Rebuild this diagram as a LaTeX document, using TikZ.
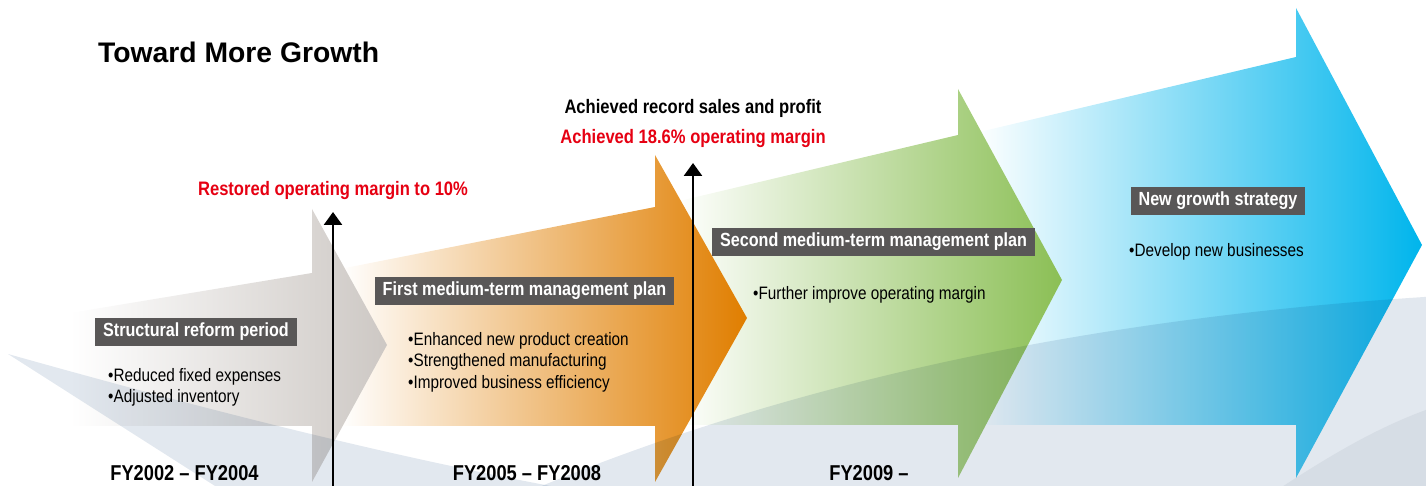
\documentclass[tikz,border=0pt]{standalone}
\usepackage{fontspec}
\usepackage{tikz}
\usetikzlibrary{arrows.meta, positioning}
\newfontfamily\condfont[FakeStretch=0.85]{Liberation Sans}
\newfontfamily\titlefont{Liberation Sans}
\definecolor{boxgray}{RGB}{89,87,87}
\definecolor{markred}{RGB}{230,0,18}
\definecolor{mistblue}{RGB}{226,232,239}
\definecolor{mistdeep}{RGB}{242,243,245}
\definecolor{reformgray}{RGB}{205,200,196}
\definecolor{planorange}{RGB}{224,126,0}
\definecolor{plangreen}{RGB}{139,191,85}
\definecolor{growthblue}{RGB}{0,181,236}
\tikzset{
    base/.style={inner sep=0pt, align=left},
    period/.style={fill=boxgray, text=white, font=\condfont\bfseries\fontsize{19}{22}\selectfont, inner xsep=8pt, inner ysep=0pt, text height=14pt, text depth=4pt, minimum height=28pt},
    points/.style={base, font=\condfont\fontsize{18}{21.5}\selectfont},
    result/.style={base, text=markred, font=\condfont\bfseries\fontsize{19.5}{22}\selectfont},
    record/.style={result, text=black},
    years/.style={base, font=\condfont\bfseries\fontsize{21.5}{26}\selectfont, anchor=base},
    veil/.style={fill=mistblue},
    rise/.style={draw=black, line width=2.6pt, -{Triangle[width=18pt,length=13pt]}}
}

\begin{document}
\begin{tikzpicture}[x=1pt, y=1pt, node distance=12pt]
    \useasboundingbox (0,0) rectangle (1426,486);
    \clip (0,0) rectangle (1426,486);

    % stage arrows, back to front
    \path [left color=white, right color=growthblue] (975,353) -- (1296,429) -- (1296,478) -- (1422,241) -- (1296,8) -- (1296,61) -- (975,61) -- cycle;
    \path [left color=white, right color=plangreen] (675,284) -- (958,351) -- (958,397) -- (1062,206) -- (958,8) -- (958,61) -- (675,61) -- cycle;
    \path [left color=white, right color=planorange] (340,217) -- (655,279) -- (655,331) -- (747,168) -- (655,4) -- (655,60) -- (340,60) -- cycle;
    \path [left color=white, right color=reformgray] (70,173) -- (312,213) -- (312,277) -- (387,141) -- (312,4) -- (312,60) -- (70,60) -- cycle;

    \begin{scope}[blend mode=multiply]
        \path [veil] (8,132) .. controls (200,78) and (400,26) .. (600,-9) -- (237,-14) -- cycle;
        \path [veil] (520,-9) .. controls (780,101) and (1080,168) .. (1440,190) -- (1440,-14) -- cycle;
        \path [fill=mistdeep] (1262,-14) .. controls (1330,31) and (1380,61) .. (1440,81) -- (1440,-14) -- cycle;
    \end{scope}

    \coordinate (foot1) at (333,-10);
    \coordinate (top1) at (333,274);
    \coordinate (foot2) at (693,-10);
    \coordinate (top2) at (693,323);
    \draw [rise] (foot1) -- (top1);
    \draw [rise] (foot2) -- (top2);

    \node [base, anchor=west, font=\titlefont\bfseries\fontsize{28.3}{32}\selectfont] (title) at (98,434) {Toward More Growth};

    \node [result, above=12pt of top1] (margin10) {Restored operating margin to 10\%};
    \node [result, above=15pt of top2] (margin18) {Achieved 18.6\% operating margin};
    \node [record, above=of margin18] (record) {Achieved record sales and profit};

    \node [period] (reform) at (196,154) {Structural reform period};
    \node [period] (first) at (524.5,195) {First medium-term management plan};
    \node [period] (second) at (873.5,244) {Second medium-term management plan};
    \node [period] (growth) at (1218,285) {New growth strategy};

    \node [points, below=22pt of reform.south, anchor=north west, xshift=-88pt] (reformpts) {•Reduced fixed expenses\\•Adjusted inventory};
    \node [points, below=27pt of first.south, anchor=north west, xshift=-116.5pt] (firstpts) {•Enhanced new product creation\\•Strengthened manufacturing\\•Improved business efficiency};
    \node [points, below=30pt of second.south, anchor=north west, xshift=-120.5pt] (secondpts) {•Further improve operating margin};
    \node [points, below=28pt of growth.south, anchor=north west, xshift=-89pt] (growthpts) {•Develop new businesses};

    \node [years] (fy1) at (184.5,5.5) {FY2002 – FY2004};
    \node [years] (fy2) at (527,5.5) {FY2005 – FY2008};
    \node [years] (fy3) at (869,5.5) {FY2009 –};
\end{tikzpicture}
\end{document}
